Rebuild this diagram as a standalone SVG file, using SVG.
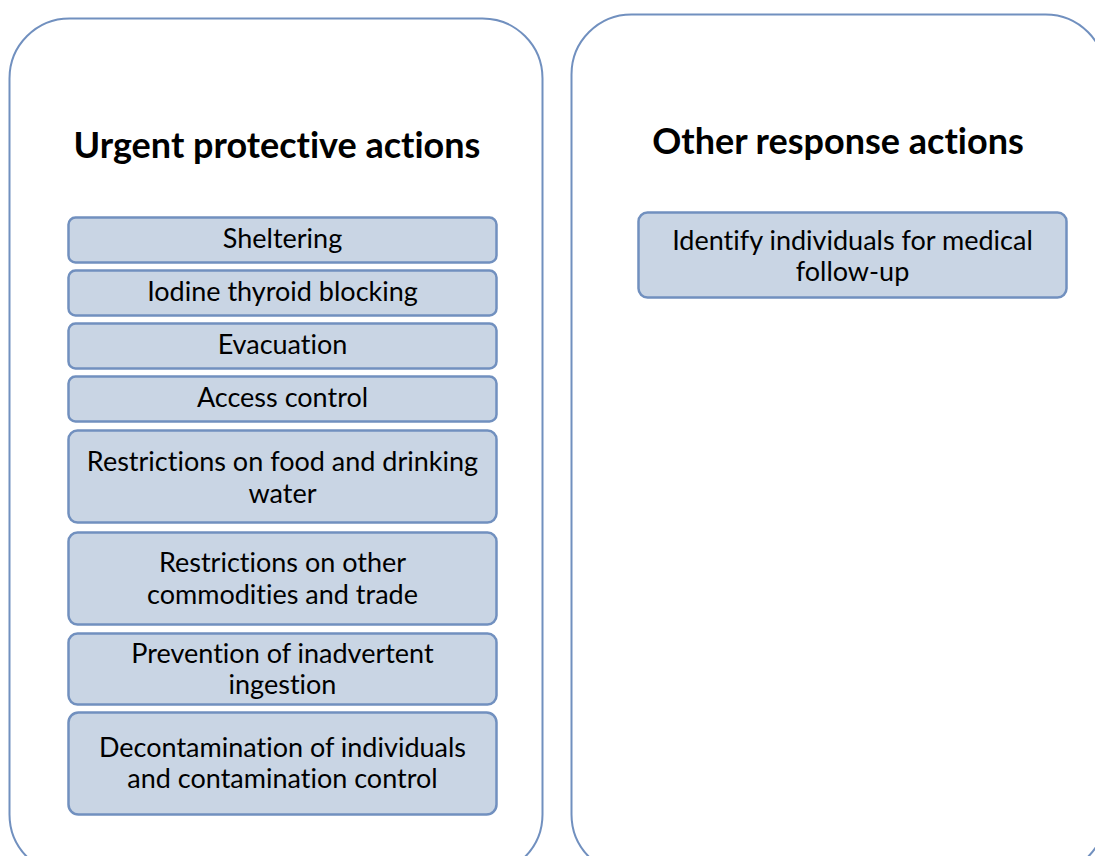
<svg xmlns="http://www.w3.org/2000/svg" width="1095" height="856" viewBox="0 0 1095 856">
  <style>
    .panel { fill: #ffffff; stroke: #7190bf; stroke-width: 2; }
    .item { fill: #c9d5e4; stroke: #7190bf; stroke-width: 2.5; }
    text { font-variant-ligatures: none; font-feature-settings: "liga" 0; }
    .title { font-family: Lato, "Liberation Sans", sans-serif; font-weight: bold; font-size: 36px; fill: #000000; text-anchor: middle; }
    .label { font-family: Lato, "Liberation Sans", sans-serif; font-size: 27px; fill: #000000; text-anchor: middle; }
  </style>
  <rect width="1095" height="856" fill="#ffffff"/>

  <!-- left column: urgent protective actions -->
  <g id="urgent-panel">
    <rect class="panel" x="9.5" y="18.5" width="533" height="856" rx="60" ry="60"/>
    <text class="title" x="277" y="158">Urgent protective actions</text>
  </g>
  <g id="sheltering">
    <rect class="item" x="68.5" y="217.5" width="428" height="45" rx="7"/>
    <text class="label" x="282.5" y="248">Sheltering</text>
  </g>
  <g id="iodine-thyroid-blocking">
    <rect class="item" x="68.5" y="270.5" width="428" height="45" rx="7"/>
    <text class="label" x="282.5" y="301">Iodine thyroid blocking</text>
  </g>
  <g id="evacuation">
    <rect class="item" x="68.5" y="323.5" width="428" height="45" rx="7"/>
    <text class="label" x="282.5" y="354">Evacuation</text>
  </g>
  <g id="access-control">
    <rect class="item" x="68.5" y="376.5" width="428" height="45" rx="7"/>
    <text class="label" x="282.5" y="407">Access control</text>
  </g>
  <g id="food-water-restrictions">
    <rect class="item" x="68.5" y="430.5" width="428" height="92" rx="9"/>
    <text class="label" x="282.5" y="471">Restrictions on food and drinking</text>
    <text class="label" x="282.5" y="503">water</text>
  </g>
  <g id="commodity-restrictions">
    <rect class="item" x="68.5" y="532.5" width="428" height="92" rx="9"/>
    <text class="label" x="282.5" y="572">Restrictions on other</text>
    <text class="label" x="282.5" y="604">commodities and trade</text>
  </g>
  <g id="inadvertent-ingestion">
    <rect class="item" x="68.5" y="633.5" width="428" height="71" rx="9"/>
    <text class="label" x="282.5" y="663">Prevention of inadvertent</text>
    <text class="label" x="282.5" y="694">ingestion</text>
  </g>
  <g id="decontamination">
    <rect class="item" x="68.5" y="712.5" width="428" height="102" rx="10"/>
    <text class="label" x="282.5" y="757">Decontamination of individuals</text>
    <text class="label" x="282.5" y="788">and contamination control</text>
  </g>

  <!-- right column: other response actions -->
  <g id="other-panel">
    <rect class="panel" x="571.5" y="14.5" width="534" height="860" rx="60" ry="60"/>
    <text class="title" x="838" y="154">Other response actions</text>
  </g>
  <g id="medical-follow-up">
    <rect class="item" x="638.5" y="212.5" width="428" height="85" rx="9"/>
    <text class="label" x="852.5" y="250">Identify individuals for medical</text>
    <text class="label" x="852.5" y="281">follow-up</text>
  </g>

  <!-- no connectors between the items -->
  <g id="connectors"/>
</svg>
